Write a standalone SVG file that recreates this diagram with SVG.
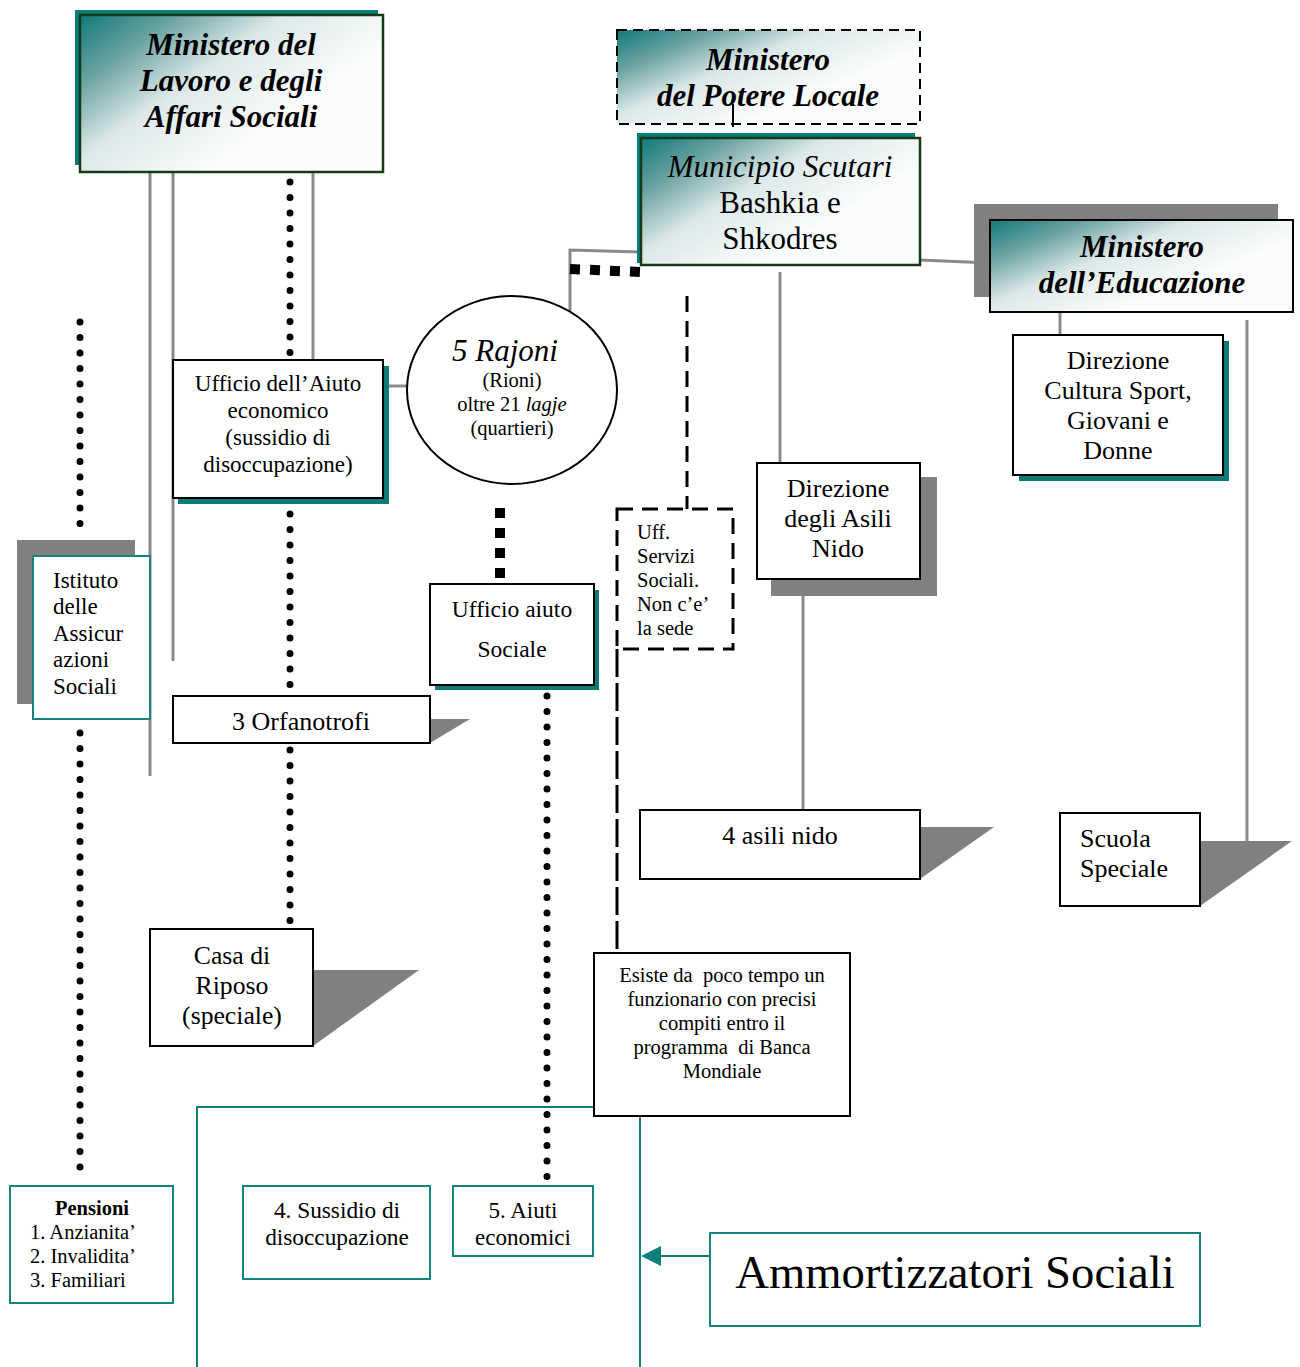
<svg xmlns="http://www.w3.org/2000/svg" width="1300" height="1367" viewBox="0 0 1300 1367">
  <defs>
    <linearGradient id="tealFade" x1="0" y1="0" x2="0.75" y2="0.55">
      <stop offset="0" stop-color="#10797a"/>
      <stop offset="0.28" stop-color="#6aa3a1"/>
      <stop offset="0.58" stop-color="#dce8e8"/>
      <stop offset="1" stop-color="#fbfcfc"/>
    </linearGradient>
    <style>
      text { font-family: "Liberation Serif", "Times New Roman", serif; fill: #000; }
      .c { text-anchor: middle; }
      .bi { font-weight: bold; font-style: italic; font-size: 31px; }
      .box { fill: #fff; stroke: #000; stroke-width: 2; }
      .tealbox { fill: #fff; stroke: #118482; stroke-width: 2; }
      .head { fill: url(#tealFade); stroke: #153a18; stroke-width: 2.5; }
      .tshadow { fill: #0a7b77; }
      .gshadow { fill: #808080; }
      .gray { stroke: #8a8a8a; stroke-width: 3; fill: none; }
      .dots { stroke: #000; stroke-width: 7; stroke-linecap: round; stroke-dasharray: 0 15.5; fill: none; }
      .squares { stroke: #000; stroke-width: 10; stroke-dasharray: 10 10; fill: none; }
      .dash { stroke: #000; stroke-width: 3; stroke-dasharray: 16 9; fill: none; }
      .longdash { stroke: #000; stroke-width: 3; stroke-dasharray: 28 6; fill: none; }
      .teal { stroke: #0e7f7b; stroke-width: 2; fill: none; }
    </style>
  </defs>

  <!-- connectors -->
  <g id="connectors">
    <line class="gray" x1="150" y1="172" x2="150" y2="776"/>
    <line class="gray" x1="173" y1="172" x2="173" y2="661"/>
    <line class="gray" x1="313" y1="172" x2="313" y2="360"/>
    <line class="gray" x1="383" y1="386" x2="408" y2="386"/>
    <polyline class="gray" points="641,252 570,250 570,311"/>
    <line class="gray" x1="920" y1="260" x2="990" y2="263"/>
    <line class="gray" x1="780" y1="272" x2="780" y2="462"/>
    <line class="gray" x1="803" y1="596" x2="803" y2="810"/>
    <line class="gray" x1="1060" y1="312" x2="1060" y2="335"/>
    <line class="gray" x1="1247" y1="320" x2="1247" y2="841"/>

    <line class="dots" x1="290" y1="182" x2="290" y2="355"/>
    <line class="dots" x1="290" y1="514" x2="290" y2="690"/>
    <line class="dots" x1="290" y1="750" x2="290" y2="926"/>
    <line class="dots" x1="80" y1="322" x2="80" y2="530"/>
    <line class="dots" x1="80" y1="733" x2="80" y2="1180"/>
    <line class="dots" x1="547" y1="696" x2="547" y2="1180"/>

    <line class="squares" x1="570" y1="269" x2="640" y2="272"/>
    <line class="squares" x1="500" y1="508" x2="500" y2="584"/>

    <line class="dash" x1="687" y1="296" x2="687" y2="509"/>
    <line class="longdash" x1="617" y1="649" x2="617" y2="953"/>

    <polyline class="teal" points="594,1107 197,1107 197,1367"/>
    <line class="teal" x1="640" y1="1116" x2="640" y2="1367"/>
    <line class="teal" x1="710" y1="1256" x2="660" y2="1256"/>
    <polygon points="641,1256 661,1246 661,1266" fill="#0e7f7b"/>
  </g>

  <!-- Ministero del Lavoro e degli Affari Sociali -->
  <g id="min-lavoro">
    <rect class="tshadow" x="75" y="10" width="303" height="155"/>
    <rect class="head" x="80" y="15" width="303" height="157"/>
    <text class="c bi" x="231" y="55">Ministero del</text>
    <text class="c bi" x="231" y="91">Lavoro e degli</text>
    <text class="c bi" x="231" y="127">Affari Sociali</text>
  </g>

  <!-- Ministero del Potere Locale -->
  <g id="min-potere">
    <rect x="617" y="30" width="303" height="94" fill="url(#tealFade)" stroke="#000" stroke-width="2" stroke-dasharray="10 6"/>
    <text class="c bi" x="768" y="70">Ministero</text>
    <text class="c bi" x="768" y="106">del Potere Locale</text>
    <line x1="733" y1="104" x2="733" y2="127" stroke="#000" stroke-width="2"/>
  </g>

  <!-- Municipio -->
  <g id="municipio">
    <rect class="tshadow" x="637" y="133" width="278" height="130"/>
    <rect class="head" x="641" y="138" width="279" height="127"/>
    <text class="c" x="780" y="177" font-size="31" font-style="italic">Municipio Scutari</text>
    <text class="c" x="780" y="213" font-size="31">Bashkia e</text>
    <text class="c" x="780" y="249" font-size="31">Shkodres</text>
  </g>

  <!-- Ministero dell'Educazione -->
  <g id="min-educazione">
    <rect class="gshadow" x="974" y="204" width="304" height="93"/>
    <rect x="990" y="220" width="303" height="92" fill="url(#tealFade)" stroke="#000" stroke-width="2"/>
    <text class="c bi" x="1142" y="257">Ministero</text>
    <text class="c bi" x="1142" y="293">dell’Educazione</text>
  </g>

  <!-- Direzione Cultura -->
  <g id="dir-cultura">
    <rect class="tshadow" x="1019" y="341" width="210" height="140"/>
    <rect class="box" x="1013" y="335" width="210" height="140"/>
    <text class="c" x="1118" y="369" font-size="26">Direzione</text>
    <text class="c" x="1118" y="399" font-size="26">Cultura Sport,</text>
    <text class="c" x="1118" y="429" font-size="26">Giovani e</text>
    <text class="c" x="1118" y="459" font-size="26">Donne</text>
  </g>

  <!-- Ufficio dell'Aiuto economico -->
  <g id="uff-aiuto-economico">
    <rect class="tshadow" x="178" y="366" width="211" height="138"/>
    <rect class="box" x="173" y="360" width="210" height="138"/>
    <text class="c" x="278" y="391" font-size="23">Ufficio dell’Aiuto</text>
    <text class="c" x="278" y="418" font-size="23">economico</text>
    <text class="c" x="278" y="445" font-size="23">(sussidio di</text>
    <text class="c" x="278" y="472" font-size="23">disoccupazione)</text>
  </g>

  <!-- 5 Rajoni -->
  <g id="rajoni">
    <ellipse cx="512" cy="390" rx="105" ry="94" fill="#fff" stroke="#000" stroke-width="2"/>
    <text class="c" x="505" y="361" font-size="31" font-style="italic">5 Rajoni</text>
    <text class="c" x="512" y="387" font-size="20.5">(Rioni)</text>
    <text class="c" x="512" y="411" font-size="20.5">oltre 21 <tspan font-style="italic">lagje</tspan></text>
    <text class="c" x="512" y="435" font-size="20.5">(quartieri)</text>
  </g>

  <!-- Direzione degli Asili Nido -->
  <g id="dir-asili">
    <rect class="gshadow" x="771" y="477" width="166" height="119"/>
    <rect class="box" x="757" y="463" width="163" height="116"/>
    <text class="c" x="838" y="497" font-size="26">Direzione</text>
    <text class="c" x="838" y="527" font-size="26">degli Asili</text>
    <text class="c" x="838" y="557" font-size="26">Nido</text>
  </g>

  <!-- Uff. Servizi Sociali -->
  <g id="uff-servizi">
    <rect x="617" y="509" width="116" height="140" fill="#fff" stroke="#000" stroke-width="3" stroke-dasharray="16 9"/>
    <text x="637" y="539" font-size="20.5">Uff.</text>
    <text x="637" y="563" font-size="20.5">Servizi</text>
    <text x="637" y="587" font-size="20.5">Sociali.</text>
    <text x="637" y="611" font-size="20.5">Non c’e’</text>
    <text x="637" y="635" font-size="20.5">la sede</text>
  </g>

  <!-- Istituto delle Assicurazioni Sociali -->
  <g id="istituto">
    <rect class="gshadow" x="17" y="540" width="118" height="164"/>
    <rect class="tealbox" x="33" y="556" width="117" height="163"/>
    <text x="53" y="588" font-size="23">Istituto</text>
    <text x="53" y="614" font-size="23">delle</text>
    <text x="53" y="641" font-size="23">Assicur</text>
    <text x="53" y="667" font-size="23">azioni</text>
    <text x="53" y="694" font-size="23">Sociali</text>
  </g>

  <!-- Ufficio aiuto Sociale -->
  <g id="uff-aiuto-sociale">
    <rect class="tshadow" x="435" y="590" width="164" height="100"/>
    <rect class="box" x="430" y="584" width="164" height="101"/>
    <text class="c" x="512" y="617" font-size="23.5">Ufficio aiuto</text>
    <text class="c" x="512" y="657" font-size="23.5">Sociale</text>
  </g>

  <!-- 3 Orfanotrofi -->
  <g id="orfanotrofi">
    <polygon class="gshadow" points="430,719 470,719 430,743"/>
    <rect class="box" x="173" y="696" width="257" height="47"/>
    <text class="c" x="301" y="730" font-size="26">3 Orfanotrofi</text>
  </g>

  <!-- 4 asili nido -->
  <g id="asili-nido">
    <polygon class="gshadow" points="920,827 994,827 920,879"/>
    <rect class="box" x="640" y="810" width="280" height="69"/>
    <text class="c" x="780" y="844" font-size="26">4 asili nido</text>
  </g>

  <!-- Scuola Speciale -->
  <g id="scuola-speciale">
    <polygon class="gshadow" points="1200,841 1292,841 1200,906"/>
    <rect class="box" x="1060" y="813" width="140" height="93"/>
    <text x="1080" y="847" font-size="26">Scuola</text>
    <text x="1080" y="877" font-size="26">Speciale</text>
  </g>

  <!-- Casa di Riposo -->
  <g id="casa-riposo">
    <polygon class="gshadow" points="313,970 419,970 313,1046"/>
    <rect class="box" x="150" y="929" width="163" height="117"/>
    <text class="c" x="232" y="964" font-size="25.7">Casa di</text>
    <text class="c" x="232" y="994" font-size="25.7">Riposo</text>
    <text class="c" x="232" y="1024" font-size="25.7">(speciale)</text>
  </g>

  <!-- Funzionario Banca Mondiale -->
  <g id="funzionario">
    <rect class="box" x="594" y="953" width="256" height="163"/>
    <text class="c" x="722" y="982" font-size="20.5" xml:space="preserve">Esiste da  poco tempo un</text>
    <text class="c" x="722" y="1006" font-size="20.5">funzionario con precisi</text>
    <text class="c" x="722" y="1030" font-size="20.5">compiti entro il</text>
    <text class="c" x="722" y="1054" font-size="20.5" xml:space="preserve">programma  di Banca</text>
    <text class="c" x="722" y="1078" font-size="20.5">Mondiale</text>
  </g>

  <!-- Pensioni -->
  <g id="pensioni">
    <rect class="tealbox" x="10" y="1186" width="163" height="117"/>
    <text class="c" x="92" y="1215" font-size="20.5" font-weight="bold">Pensioni</text>
    <text x="30" y="1239" font-size="20.5">1. Anzianita’</text>
    <text x="30" y="1263" font-size="20.5">2. Invalidita’</text>
    <text x="30" y="1287" font-size="20.5">3. Familiari</text>
  </g>

  <!-- 4. Sussidio di disoccupazione -->
  <g id="sussidio">
    <rect class="tealbox" x="243" y="1186" width="187" height="93"/>
    <text class="c" x="337" y="1218" font-size="23.3">4. Sussidio di</text>
    <text class="c" x="337" y="1245" font-size="23.3">disoccupazione</text>
  </g>

  <!-- 5. Aiuti economici -->
  <g id="aiuti">
    <rect class="tealbox" x="453" y="1186" width="140" height="70"/>
    <text class="c" x="523" y="1218" font-size="23">5. Aiuti</text>
    <text class="c" x="523" y="1245" font-size="23">economici</text>
  </g>

  <!-- Ammortizzatori Sociali -->
  <g id="ammortizzatori">
    <rect class="tealbox" x="710" y="1233" width="490" height="93"/>
    <text class="c" x="955" y="1288" font-size="46.7">Ammortizzatori Sociali</text>
  </g>
</svg>
